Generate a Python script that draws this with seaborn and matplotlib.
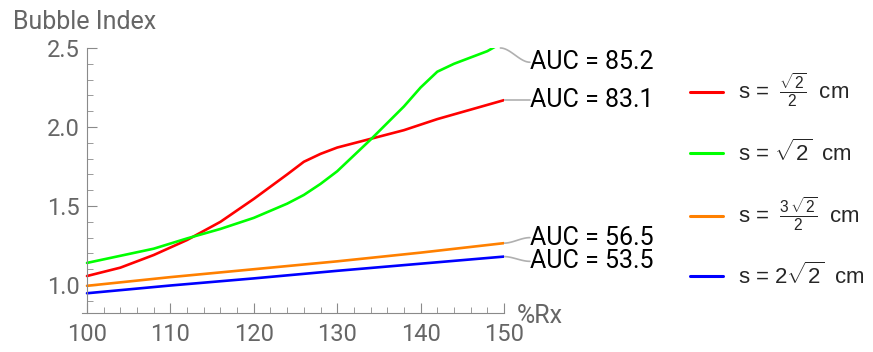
import numpy as np
import pandas as pd
import matplotlib
matplotlib.use("Agg")
import matplotlib.pyplot as plt
from matplotlib.ticker import MultipleLocator
import seaborn as sns

# ---- data ----
series_names = [r"s = $\;\frac{\sqrt{2}}{2}\;$ cm", r"s = $\sqrt{2}\;$ cm",
                r"s = $\;\frac{3\,\sqrt{2}}{2}\;$ cm", r"s = 2$\sqrt{2}\;$ cm"]
colors = ["#ff0000", "#00ff00", "#ff8000", "#0000ff"]

x_red = [100, 104, 108, 112, 116, 120, 124, 126, 128, 130, 134, 138, 142, 146, 150]
y_red = [1.057, 1.11, 1.19, 1.285, 1.40, 1.545, 1.70, 1.78, 1.83, 1.87, 1.925, 1.98, 2.05, 2.11, 2.17]

x_green = [100, 104, 108, 112, 116, 120, 124, 126, 128, 130, 134, 138, 140, 142, 144, 146, 148, 150]
y_green = [1.14, 1.185, 1.23, 1.295, 1.355, 1.425, 1.515, 1.57, 1.64, 1.72, 1.92, 2.13, 2.25, 2.35, 2.40, 2.44, 2.48, 2.54]

x_orange = [100, 110, 120, 130, 140, 150]
y_orange = [0.995, 1.05, 1.10, 1.15, 1.205, 1.265]

x_blue = [100, 110, 120, 130, 140, 150]
y_blue = [0.948, 0.997, 1.042, 1.09, 1.135, 1.18]

auc_labels = ["AUC = 83.1", "AUC = 85.2", "AUC = 56.5", "AUC = 53.5"]
x_ticks = [100, 110, 120, 130, 140, 150]
y_ticks = [1.0, 1.5, 2.0, 2.5]

xs = [x_red, x_green, x_orange, x_blue]
ys = [y_red, y_green, y_orange, y_blue]
df = pd.concat([pd.DataFrame({"x": xv, "y": yv, "series": n})
                for xv, yv, n in zip(xs, ys, series_names)], ignore_index=True)

# ---- style ----
sns.set_style("ticks")
plt.rcParams["font.family"] = ["Roboto", "DejaVu Sans"]
plt.rcParams["mathtext.fontset"] = "custom"
plt.rcParams["mathtext.rm"] = "Liberation Sans"
plt.rcParams["mathtext.it"] = "Liberation Sans"

W, H = 873, 352
fig = plt.figure(figsize=(W / 100, H / 100), dpi=100)
ax = fig.add_axes([82 / W, 1 - 313 / H, (504 - 82) / W, (313 - 48) / H])

sns.lineplot(data=df, x="x", y="y", hue="series", hue_order=series_names,
             palette=colors, estimator=None, sort=False, linewidth=1.9, ax=ax, legend=True)

ax.set_xlim(99.4, 150)
ax.set_ylim(0.823, 2.5)
ax.set_xlabel("")
ax.set_ylabel("")
for s in ["top", "right"]:
    ax.spines[s].set_visible(False)
ax.spines["left"].set_position(("data", 100))
axis_gray = "#8a8a8a"
for s in ["left", "bottom"]:
    ax.spines[s].set_color(axis_gray)
    ax.spines[s].set_linewidth(0.8)
ax.set_xticks(x_ticks)
ax.set_yticks(y_ticks)
ax.set_yticklabels([f"{v:.1f}" for v in y_ticks])
ax.xaxis.set_minor_locator(MultipleLocator(2))
ax.yaxis.set_minor_locator(MultipleLocator(0.1))
ax.tick_params(which="major", direction="in", length=7, width=0.8, color=axis_gray,
               labelsize=17, labelcolor="#666666")
ax.tick_params(which="minor", direction="in", length=4, width=0.6, color=axis_gray)
ax.tick_params(axis="x", pad=7)
ax.tick_params(axis="y", pad=5)

# AUC labels with gray leader lines
label_x = 153.1
label_y = [2.17, 2.41, 1.30, 1.15]
for i, (xv, yv, lab) in enumerate(zip(xs, ys, auc_labels)):
    xv = np.asarray(xv, float); yv = np.asarray(yv, float)
    if yv[-1] > 2.5:
        x0 = float(np.interp(2.5, yv, xv)) + 0.9
        y0 = 2.5
    else:
        x0, y0 = xv[-1], yv[-1]
    t = np.linspace(0, 1, 40)
    sm = t * t * (3 - 2 * t)
    lx = x0 + (label_x - x0) * t
    ly = y0 + (label_y[i] - y0) * sm
    ax.plot(lx, ly, color="#b0b0b0", lw=1.2, clip_on=False, zorder=1)
    ax.text(label_x, label_y[i], lab, fontsize=18, color="black",
            ha="left", va="center", clip_on=False)

fig.text(13 / W, 1 - 22 / H, "Bubble Index", fontsize=18, color="#666666",
         ha="left", va="center")
fig.text(517 / W, 1 - 316 / H, "%Rx", fontsize=18, color="#666666",
         ha="left", va="center")

handles, labels = ax.get_legend_handles_labels()
ax.get_legend().remove()
leg = fig.legend(handles, labels, loc="upper left", bbox_to_anchor=(690 / W, 1 - 72 / H),
                 frameon=False, prop={"family": "Liberation Sans", "size": 16},
                 borderpad=0, borderaxespad=0,
                 handlelength=1.5, handletextpad=0.65, labelspacing=1.35)
for h in leg.get_lines():
    h.set_linewidth(2.2)

fig.savefig("out.png", dpi=100)
